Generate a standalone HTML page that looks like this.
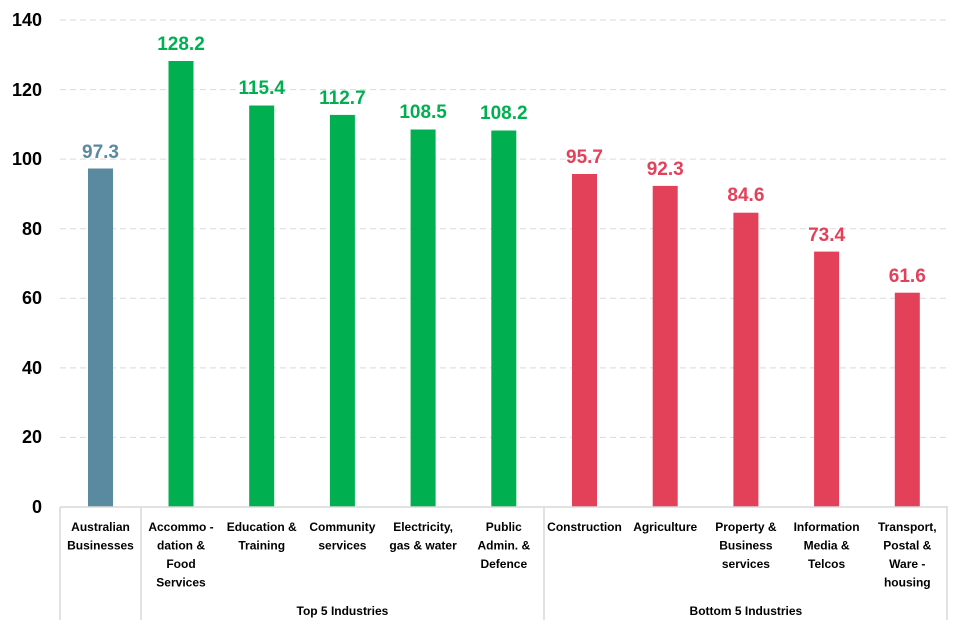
<!DOCTYPE html><html><head><style>body{margin:0;background:#fff}svg{display:block;font-family:"Liberation Sans",sans-serif;font-weight:bold}</style></head><body>
<svg width="962" height="627" viewBox="0 0 962 627">
<g stroke="#d9d9d9" stroke-dasharray="6,4" stroke-width="1">
<line x1="60" x2="948" y1="437.4" y2="437.4"/><line x1="60" x2="948" y1="367.9" y2="367.9"/><line x1="60" x2="948" y1="298.3" y2="298.3"/><line x1="60" x2="948" y1="228.7" y2="228.7"/><line x1="60" x2="948" y1="159.1" y2="159.1"/><line x1="60" x2="948" y1="89.6" y2="89.6"/><line x1="60" x2="948" y1="20" y2="20"/>
</g>
<g font-size="18" text-anchor="end" fill="#000"><text x="42" y="513">0</text><text x="42" y="443">20</text><text x="42" y="374">40</text><text x="42" y="304">60</text><text x="42" y="235">80</text><text x="42" y="165">100</text><text x="42" y="96">120</text><text x="42" y="26">140</text></g>
<g>
<rect x="88" y="168.5" width="25" height="338.5" fill="#5A8A9F"/>
<rect x="168.5" y="61" width="25" height="446" fill="#00B050"/>
<rect x="249.2" y="105.5" width="25" height="401.5" fill="#00B050"/>
<rect x="329.9" y="114.9" width="25" height="392.1" fill="#00B050"/>
<rect x="410.6" y="129.5" width="25" height="377.5" fill="#00B050"/>
<rect x="491.3" y="130.5" width="25" height="376.5" fill="#00B050"/>
<rect x="572" y="174" width="25" height="333" fill="#E3405A"/>
<rect x="652.7" y="185.9" width="25" height="321.1" fill="#E3405A"/>
<rect x="733.4" y="212.7" width="25" height="294.3" fill="#E3405A"/>
<rect x="814.1" y="251.6" width="25" height="255.4" fill="#E3405A"/>
<rect x="894.8" y="292.7" width="25" height="214.3" fill="#E3405A"/>
</g>
<g font-size="19" text-anchor="middle">
<text x="100.5" y="158" fill="#5A8A9F">97.3</text>
<text x="181" y="50" fill="#00B050">128.2</text>
<text x="261.7" y="94" fill="#00B050">115.4</text>
<text x="342.4" y="104" fill="#00B050">112.7</text>
<text x="423.1" y="118" fill="#00B050">108.5</text>
<text x="503.8" y="119" fill="#00B050">108.2</text>
<text x="584.5" y="163" fill="#E3405A">95.7</text>
<text x="665.2" y="175" fill="#E3405A">92.3</text>
<text x="745.9" y="201" fill="#E3405A">84.6</text>
<text x="826.6" y="241" fill="#E3405A">73.4</text>
<text x="907.3" y="282" fill="#E3405A">61.6</text>
</g>
<g stroke="#d9d9d9" stroke-width="1.5"><line x1="60" x2="948" y1="507" y2="507"/><line x1="60" x2="60" y1="507" y2="620"/><line x1="141" x2="141" y1="507" y2="620"/><line x1="544" x2="544" y1="507" y2="620"/><line x1="947" x2="947" y1="507" y2="620"/></g>
<g font-size="12" text-anchor="middle" fill="#000">
<text x="100.5" y="531">Australian</text><text x="100.5" y="549.5">Businesses</text>
<text x="181" y="531">Accommo -</text><text x="181" y="549.5">dation &amp;</text><text x="181" y="568">Food</text><text x="181" y="586.5">Services</text>
<text x="261.7" y="531">Education &amp;</text><text x="261.7" y="549.5">Training</text>
<text x="342.4" y="531">Community</text><text x="342.4" y="549.5">services</text>
<text x="423.1" y="531">Electricity,</text><text x="423.1" y="549.5">gas &amp; water</text>
<text x="503.8" y="531">Public</text><text x="503.8" y="549.5">Admin. &amp;</text><text x="503.8" y="568">Defence</text>
<text x="584.5" y="531">Construction</text>
<text x="665.2" y="531">Agriculture</text>
<text x="745.9" y="531">Property &amp;</text><text x="745.9" y="549.5">Business</text><text x="745.9" y="568">services</text>
<text x="826.6" y="531">Information</text><text x="826.6" y="549.5">Media &amp;</text><text x="826.6" y="568">Telcos</text>
<text x="907.3" y="531">Transport,</text><text x="907.3" y="549.5">Postal &amp;</text><text x="907.3" y="568">Ware -</text><text x="907.3" y="586.5">housing</text>
<text x="342.4" y="615">Top 5 Industries</text>
<text x="745.9" y="615">Bottom 5 Industries</text>
</g>
</svg></body></html>
